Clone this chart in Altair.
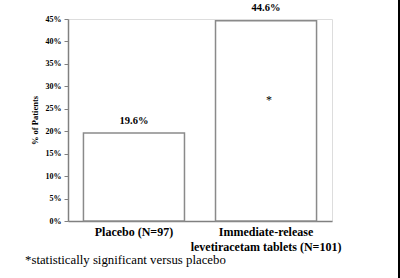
import altair as alt
import pandas as pd

categories = ["Placebo (N=97)", "Immediate-release\nlevetiracetam tablets (N=101)"]
values = [19.6, 44.6]
labels = ["19.6%", "44.6%"]
star_cat = [categories[1]]
star_y = [27.0]
y_ticks = [0, 5, 10, 15, 20, 25, 30, 35, 40, 45]
footnote = "*statistically significant versus placebo"

FONT = "'Times New Roman', 'Liberation Serif', 'DejaVu Serif', serif"

df = pd.DataFrame({"cat": categories, "val": values, "lab": labels})
star_df = pd.DataFrame({"cat": star_cat, "val": star_y, "lab": ["*"]})

x_enc = alt.X(
    "cat:N",
    sort=categories,
    scale=alt.Scale(paddingInner=0.235, paddingOuter=0.117),
    axis=alt.Axis(
        title=None,
        labelExpr="split(datum.label, '\\n')",
        labelAngle=0,
        labelFont=FONT,
        labelFontSize=12,
        labelFontWeight="bold",
        labelColor="#000000",
        labelPadding=5,
        labelLineHeight=15,
        ticks=False,
        domainColor="#808080",
        domainWidth=1.5,
        labelLimit=300,
    ),
)

y_enc = alt.Y(
    "val:Q",
    scale=alt.Scale(domain=[0, 45], nice=False),
    axis=alt.Axis(
        title="% of Patients",
        values=y_ticks,
        labelExpr="datum.value + '%'",
        labelOverlap=False,
        labelFont=FONT,
        labelFontSize=8,
        labelFontWeight="bold",
        labelColor="#000000",
        labelPadding=3,
        tickSize=4,
        tickColor="#808080",
        domainColor="#808080",
        domainWidth=1.5,
        grid=False,
        titleFont=FONT,
        titleFontSize=8.5,
        titleFontWeight="bold",
        titleColor="#000000",
        titlePadding=6,
    ),
)

bars = alt.Chart(df).mark_bar(
    fill="white", stroke="#8a8a8a", strokeWidth=1.5
).encode(x=x_enc, y=y_enc)

bar_labels = alt.Chart(df).mark_text(
    font=FONT, fontSize=10.5, fontWeight="bold", color="#000000",
    baseline="middle", dy=-12.5
).encode(x=x_enc, y=y_enc, text="lab:N")

star = alt.Chart(star_df).mark_text(
    font=FONT, fontSize=12, color="#000000", baseline="middle", dx=3
).encode(x=x_enc, y=y_enc, text="lab:N")

foot = alt.Chart(pd.DataFrame({"t": [footnote]})).mark_text(
    font=FONT, fontSize=12.8, color="#000000", align="left", baseline="middle"
).encode(x=alt.value(-43), y=alt.value(241), text="t:N")

edge = alt.Chart(pd.DataFrame({"a": [0]})).mark_rule(
    color="#000000", strokeWidth=2
).encode(x=alt.value(331), y=alt.value(-19), y2=alt.value(259))

chart = (
    alt.layer(bars, bar_labels, star, foot, edge)
    .properties(
        width=264,
        height=202,
        autosize=alt.AutoSizeParams(type="none"),
        padding={"left": 68, "top": 19, "right": 68, "bottom": 57},
    )
    .configure_view(stroke="#e0e0e0", strokeWidth=1)
    .configure(background="white", font=FONT)
)

chart.save("out.html", embed_options={"renderer": "svg", "actions": False})
